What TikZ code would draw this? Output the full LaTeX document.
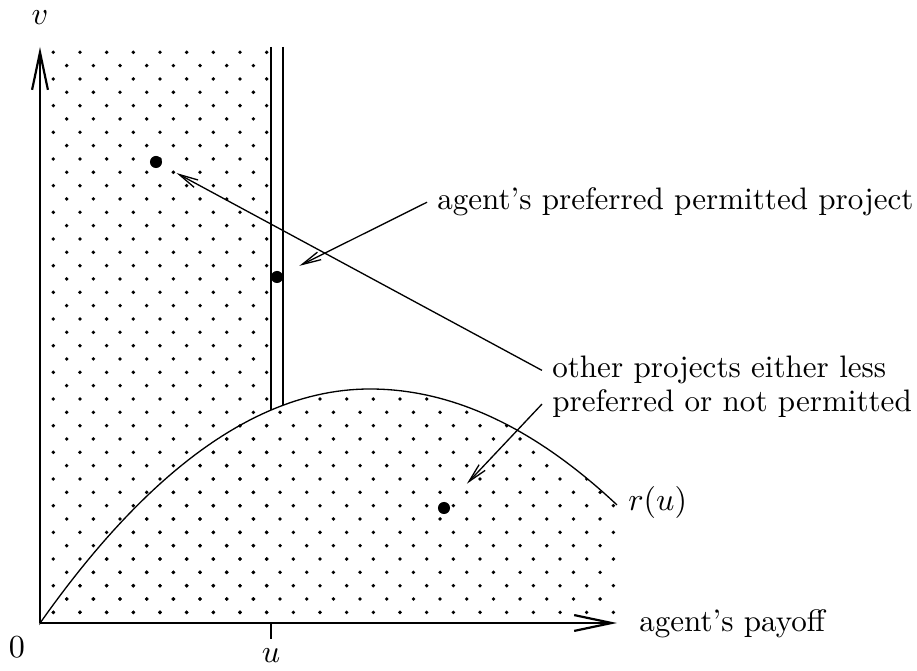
\documentclass[tikz,border=0pt]{standalone}
\usepackage{amsmath}
\usetikzlibrary{arrows.meta}
% staggered dot pattern of the permitted set
\newcommand{\dotgrid}{%
  \foreach \j in {0,...,21}{%
    \foreach \k in {0,...,21}{%
      \fill (13.3+26.67*\k,570.7-26.67*\j) circle[radius=0.65pt];
      \fill (26.7+26.67*\k,557.4-26.67*\j) circle[radius=0.65pt];
    }}}

\begin{document}
\begin{tikzpicture}[x=0.012cm,y=0.012cm,
    every node/.style={font=\fontsize{10.6}{12.7}\selectfont},
    axis/.style={line width=0.75pt,-{Straight Barb[length=4.5mm,width=1.9mm]}},
    pointer/.style={line width=0.45pt,-{Straight Barb[length=2.3mm,width=1mm]}},
    bigdot/.style={circle,fill,inner sep=0pt,minimum size=1.45mm},
    bound/.style={line width=0.35pt}]
    \useasboundingbox (-40,-48) rectangle (877,623);
    \begin{scope}
      \clip (0,0) rectangle (236,576);
      \dotgrid
    \end{scope}
    \begin{scope}
      \clip (0,0) -- plot[domain=-330:0,samples=50] ({330+\x},{234-(0.04637*\x)*(0.04637*\x)})
        -- plot[domain=0:247,samples=40] ({330+\x},{234-(0.04359*\x)*(0.04359*\x)}) -- (577,0) -- cycle;
      \dotgrid
    \end{scope}
    % axes
    \coordinate (O) at (0,0);
    \coordinate (xend) at (577,0);
    \coordinate (yend) at (0,576);
    \draw[axis] (O) -- (yend);
    \draw[axis] (O) -- (xend);
    \coordinate (utick) at (231,0);
    \draw[line width=0.5pt] (utick) -- ++(0,-16);
    \node (zero) at (-23,-24) {$0$};
    \node (ulab) at (231,-33) {$u$};
    \node[inner sep=1pt] (vlab) at (0,605) {$v$};
    \node[anchor=west] (payoff) at (589,-1) {agent's payoff};
    % r(u)
    \draw[line width=0.45pt] (O) -- plot[domain=-330:0,samples=50] ({330+\x},{234-(0.04637*\x)*(0.04637*\x)})
      -- plot[domain=0:247,samples=40] ({330+\x},{234-(0.04359*\x)*(0.04359*\x)});
    \node[anchor=base west] (rlab) at (578,112) {$r(u)$};
    % boundary u
    \coordinate (la) at (231,576); \coordinate (lb) at (231,213);
    \coordinate (ra) at (243,576); \coordinate (rb) at (243,217.7);
    \draw[bound] (la) -- (lb);
    \draw[bound] (ra) -- (rb);
    % projects
    \node[bigdot] (pa) at (116,461) {};
    \node[bigdot] (pb) at (237,346) {};
    \node[bigdot] (pc) at (404,115) {};
    \node[anchor=base west] (pref) at (387,413) {agent's preferred permitted project};
    \node[anchor=base west] (oth1) at (502,245) {other projects either less};
    \node[anchor=base west] (oth2) at (502,211) {preferred or not permitted};
    \draw[pointer, shorten >=0.2cm] (oth1.west) -- (pa);
    \draw[pointer, shorten >=0.22cm] (pref.west) -- (pb);
    \draw[pointer, shorten >=0.32cm] (oth2.west) -- (pc);
\end{tikzpicture}
\end{document}
